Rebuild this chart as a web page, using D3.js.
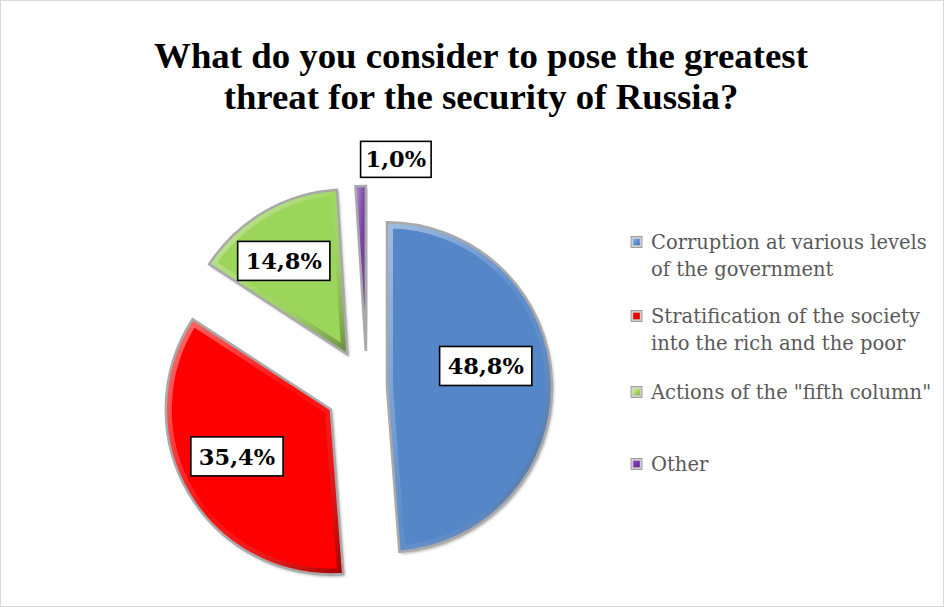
<!DOCTYPE html>
<html>
<head>
<meta charset="utf-8">
<script src="https://cdn.jsdelivr.net/npm/d3@7/dist/d3.min.js"></script>
<style>
  html, body { margin: 0; padding: 0; background: #fff; }
  svg { display: block; }
</style>
</head>
<body>
<svg id="chart" width="944" height="607"></svg>
<script>
// Survey answers (share of respondents, %)
const categories = [
  ["Corruption at various levels", "of the government"],
  ["Stratification of the society", "into the rich and the poor"],
  ["Actions of the \"fifth column\""],
  ["Other"]
];
const values = [48.8, 35.4, 14.8, 1.0];
const valueLabels = ["48,8%", "35,4%", "14,8%", "1,0%"];
const colors = ["#5587c8", "#ff0000", "#9bd55a", "#7030a0"];
const titleLines = ["What do you consider to pose the greatest", "threat for the security of Russia?"];

const W = 944, H = 607;
const svg = d3.select("#chart");
const defs = svg.append("defs");

// frame
svg.append("rect").attr("x", 0.5).attr("y", 0.5).attr("width", W - 1).attr("height", H - 1)
  .attr("fill", "#fff").attr("stroke", "#d9d9d9");

// title
svg.append("g").selectAll("text").data(titleLines).join("text")
  .attr("x", 481).attr("y", (d, i) => 68 + i * 41)
  .attr("text-anchor", "middle")
  .attr("font-family", "'Liberation Serif', 'Times New Roman', serif")
  .attr("font-weight", "bold").attr("font-size", 36.8)
  .attr("fill", "#000").text(d => d);

// pie geometry
const cx = 367, cy = 388, R = 165;
const explode = [20, 42, 39, 37];          // per-slice pull-out distance
const pie = d3.pie().sort(null).value(d => d)(values);
const arc = d3.arc().innerRadius(0).outerRadius(R);

defs.append("filter").attr("id", "shadow").attr("x", "-20%").attr("y", "-20%")
  .attr("width", "140%").attr("height", "140%")
  .append("feDropShadow").attr("dx", 1.5).attr("dy", 2).attr("stdDeviation", 1.8)
  .attr("flood-color", "#000").attr("flood-opacity", 0.35);

// bevel: light upper-left, darker lower-right
const bev = defs.append("linearGradient").attr("id", "bevel")
  .attr("x1", "0").attr("y1", "0").attr("x2", "1").attr("y2", "1");
bev.append("stop").attr("offset", "0%").attr("stop-color", "#fff").attr("stop-opacity", 0.45);
bev.append("stop").attr("offset", "50%").attr("stop-color", "#fff").attr("stop-opacity", 0.05);
bev.append("stop").attr("offset", "100%").attr("stop-color", "#000").attr("stop-opacity", 0.35);

const mid = d => (d.startAngle + d.endAngle) / 2;

const slices = svg.append("g").selectAll("g.slice").data(pie).join("g")
  .attr("class", "slice")
  .attr("transform", (d, i) => {
    const a = mid(d);
    return `translate(${cx + explode[i] * Math.sin(a)},${cy - explode[i] * Math.cos(a)})`;
  });

slices.each(function (d, i) {
  const g = d3.select(this);
  const clipId = "clip" + i;
  defs.append("clipPath").attr("id", clipId).append("path").attr("d", arc(d));
  g.append("path").attr("d", arc(d)).attr("fill", colors[i])
    .attr("filter", "url(#shadow)");
  // inner bevel band
  g.append("path").attr("d", arc(d)).attr("fill", "none")
    .attr("stroke", "url(#bevel)").attr("stroke-width", 12)
    .attr("stroke-linejoin", "round")
    .attr("clip-path", `url(#${clipId})`);
  // silver rim
  g.append("path").attr("d", arc(d)).attr("fill", "none")
    .attr("stroke", "#a9a9a9").attr("stroke-width", 2.5).attr("stroke-linejoin", "miter");
});

// value labels, placed in polar terms relative to each slice's apex
const labelDist = [101, 105, 113, 194];
const labelTurn = [-10, 4, -4, 10.7];       // degrees from the slice bisector
slices.each(function (d, i) {
  const a = mid(d) + labelTurn[i] * Math.PI / 180;
  const x = labelDist[i] * Math.sin(a), y = -labelDist[i] * Math.cos(a);
  const g = d3.select(this).append("g").attr("transform", `translate(${x},${y})`);
  const t = g.append("text").attr("text-anchor", "middle").attr("dy", "0.36em")
    .attr("font-family", "'DejaVu Serif', serif").attr("font-weight", "bold")
    .attr("font-size", 22.5).attr("fill", "#000").text(valueLabels[i]);
  const bb = t.node().getBBox();
  const padX = i === 3 ? 5 : 8;
  const bw = bb.width + 2 * padX, bh = i === 3 ? 36 : 39;
  g.insert("rect", "text").attr("x", -bw / 2).attr("y", -bh / 2)
    .attr("width", bw).attr("height", bh)
    .attr("fill", "#fff").attr("stroke", "#000").attr("stroke-width", 1.6);
});

// legend
const legendY = [242, 316, 392, 464];
const lg = svg.append("g").selectAll("g").data(categories).join("g")
  .attr("transform", (d, i) => `translate(631,${legendY[i]})`);
lg.each(function (lines, i) {
  const g = d3.select(this);
  const gid = "lg" + i;
  const grad = defs.append("linearGradient").attr("id", gid)
    .attr("x1", 0).attr("y1", 0).attr("x2", 1).attr("y2", 1);
  grad.append("stop").attr("offset", "0%").attr("stop-color", d3.color(colors[i]).brighter(0.8));
  grad.append("stop").attr("offset", "100%").attr("stop-color", d3.color(colors[i]).darker(0.5));
  g.append("rect").attr("x", 0).attr("y", -5.5).attr("width", 11).attr("height", 11)
    .attr("fill", "#cfcfcf").attr("stroke", "#8c8c8c").attr("stroke-width", 0.8);
  g.append("rect").attr("x", 2.2).attr("y", -3.3).attr("width", 6.6).attr("height", 6.6)
    .attr("fill", `url(#${gid})`);
  g.selectAll("text").data(lines).join("text")
    .attr("x", 20).attr("y", (d, j) => j * 27).attr("dy", "0.35em")
    .attr("font-family", "'DejaVu Serif', serif").attr("font-size", 19.5)
    .attr("fill", "#595959").text(d => d);
});
</script>
</body>
</html>
